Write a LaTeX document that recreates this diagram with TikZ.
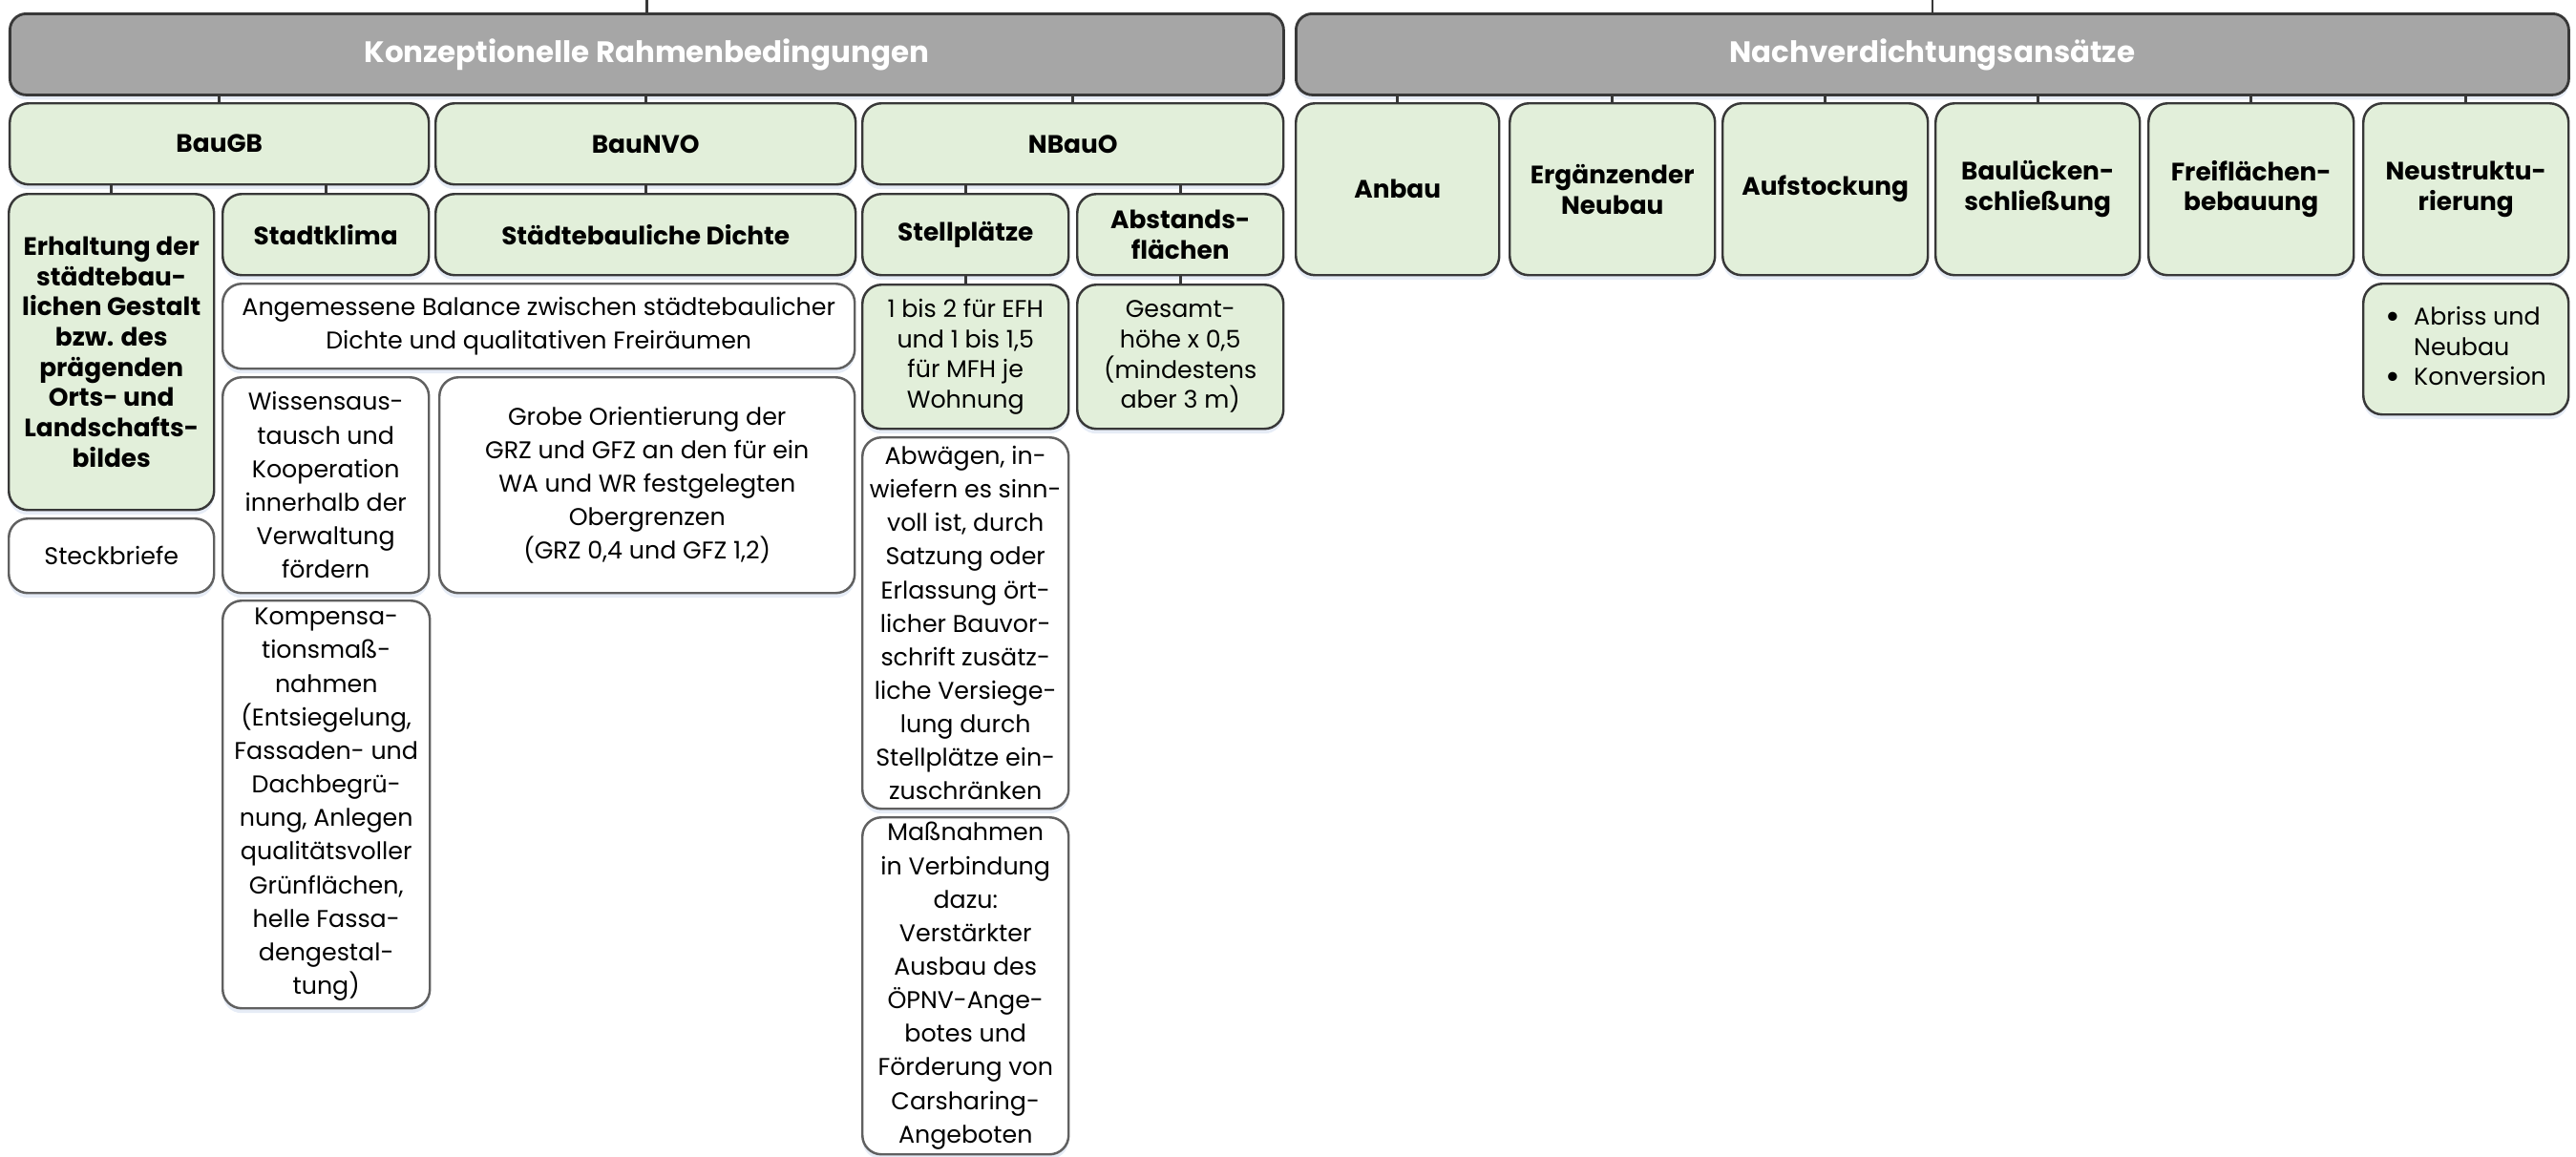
\documentclass[tikz,border=0pt]{standalone}
\usepackage{fontspec}
\setmainfont{Poppins}
\usepackage{tikz}
\usetikzlibrary{shadows}
\definecolor{HeadGrey}{RGB}{166,166,166}
\definecolor{SoftGreen}{RGB}{226,239,218}
\definecolor{LineDark}{RGB}{56,56,56}
\definecolor{LineGrey}{RGB}{96,96,96}
\definecolor{ShadowBlue}{RGB}{205,218,238}
\newcommand{\bigdot}{\raisebox{-0.17em}{\scalebox{1.5}{\textbullet}}}

\begin{document}
\begin{tikzpicture}[
  box/.style={draw, rounded corners=2mm, anchor=north west, inner sep=1pt, align=center, line width=0.7pt,
    drop shadow={shadow xshift=0pt, shadow yshift=-0.05cm, fill=ShadowBlue, opacity=0.5}},
  headbox/.style={box, fill=HeadGrey, draw=LineDark, text=white, minimum height=0.85cm, rounded corners=1.7mm,
    line width=0.8pt, font=\fontsize{8.8}{10}\selectfont\bfseries},
  greenbox/.style={box, fill=SoftGreen, draw=LineDark, font=\fontsize{7.5}{9}\selectfont\bfseries},
  greentext/.style={box, fill=SoftGreen, draw=LineDark, font=\fontsize{7.2}{9}\selectfont},
  textbox/.style={box, fill=white, draw=LineGrey, font=\fontsize{7.2}{10}\selectfont},
  link/.style={draw=LineDark, line width=0.8pt}
]
\useasboundingbox (0,0) rectangle (26.98,-12.12);

% Top headers
\node[headbox, minimum width=13.34cm] (kr) at (0.09,-0.13) {Konzeptionelle Rahmenbedingungen};
\node[headbox, minimum width=13.33cm] (nv) at (13.56,-0.13) {Nachverdichtungsansätze};
\coordinate (upkr) at (kr.north |- 0,0);
\coordinate (upnv) at (nv.north |- 0,0);

% Legal bases
\node[greenbox, minimum width=4.39cm, minimum height=0.85cm] (baugb) at (0.09,-1.07) {BauGB};
\node[greenbox, minimum width=4.40cm, minimum height=0.85cm] (baunvo) at (4.55,-1.07) {BauNVO};
\node[greenbox, minimum width=4.41cm, minimum height=0.85cm] (nbauo) at (9.02,-1.07) {NBauO};

% Densification approaches
\node[greenbox, minimum width=2.13cm, minimum height=1.80cm] (anbau) at (13.56,-1.07) {Anbau};
\node[greenbox, minimum width=2.15cm, minimum height=1.80cm] (ergnb) at (15.80,-1.07) {Ergänzender\\Neubau};
\node[greenbox, minimum width=2.15cm, minimum height=1.80cm] (aufst) at (18.03,-1.07) {Aufstockung};
\node[greenbox, minimum width=2.14cm, minimum height=1.80cm] (luecke) at (20.26,-1.07) {Baulücken-\\schließung};
\node[greenbox, minimum width=2.15cm, minimum height=1.80cm] (freifl) at (22.49,-1.07) {Freiflächen-\\bebauung};
\node[greenbox, minimum width=2.15cm, minimum height=1.80cm] (neustr) at (24.74,-1.07) {Neustruktu-\\rierung};

% Topics below the legal bases
\node[greenbox, minimum width=2.15cm, minimum height=3.31cm] (erhalt) at (0.08,-2.02)
  {Erhaltung der\\städtebau-\\lichen Gestalt\\bzw. des\\prägenden\\Orts- und\\Landschafts-\\bildes};
\node[greenbox, minimum width=2.16cm, minimum height=0.85cm] (klima) at (2.32,-2.02) {Stadtklima};
\node[greenbox, minimum width=4.40cm, minimum height=0.85cm] (dichte) at (4.55,-2.02) {Städtebauliche Dichte};
\node[greenbox, minimum width=2.16cm, minimum height=0.85cm] (stellpl) at (9.02,-2.02) {Stellplätze};
\node[greenbox, minimum width=2.16cm, minimum height=0.85cm] (abstand) at (11.27,-2.02) {Abstands-\\flächen};

% Contents
\node[textbox, minimum width=6.62cm, minimum height=0.89cm] (balance) at (2.32,-2.96)
  {Angemessene Balance zwischen städtebaulicher\\Dichte und qualitativen Freiräumen};
\node[greentext, minimum width=2.16cm, minimum height=1.51cm] (efh) at (9.02,-2.97)
  {1 bis 2 für EFH\\und 1 bis 1,5\\für MFH je\\Wohnung};
\node[greentext, minimum width=2.16cm, minimum height=1.51cm] (gesamt) at (11.27,-2.97)
  {Gesamt-\\höhe x 0,5\\(mindestens\\aber 3 m)};
\node[greentext, minimum width=2.15cm, minimum height=1.37cm] (abriss) at (24.74,-2.96)
  {\begin{tabular}{@{}l@{\hspace{1.4mm}}l@{}}\bigdot & Abriss und\\ & Neubau\\ \bigdot & Konversion\end{tabular}};
\node[textbox, minimum width=2.16cm, minimum height=2.26cm] (wissen) at (2.32,-3.94)
  {Wissensaus-\\tausch und\\Kooperation\\innerhalb der\\Verwaltung\\fördern};
\node[textbox, minimum width=4.35cm, minimum height=2.26cm] (grobe) at (4.59,-3.94)
  {Grobe Orientierung der\\GRZ und GFZ an den für ein\\WA und WR festgelegten\\Obergrenzen\\(GRZ 0,4 und GFZ 1,2)};
\node[textbox, minimum width=2.15cm, minimum height=0.78cm] (steck) at (0.08,-5.42) {Steckbriefe};
\node[textbox, minimum width=2.16cm, minimum height=3.89cm] (abwaeg) at (9.02,-4.57)
  {Abwägen, in-\\wiefern es sinn-\\voll ist, durch\\Satzung oder\\Erlassung ört-\\licher Bauvor-\\schrift zusätz-\\liche Versiege-\\lung durch\\Stellplätze ein-\\zuschränken};
\node[textbox, minimum width=2.17cm, minimum height=4.27cm] (kompens) at (2.32,-6.28)
  {Kompensa-\\tionsmaß-\\nahmen\\(Entsiegelung,\\Fassaden- und\\Dachbegrü-\\nung, Anlegen\\qualitätsvoller\\Grünflächen,\\helle Fassa-\\dengestal-\\tung)};
\node[textbox, minimum width=2.16cm, minimum height=3.53cm] (massn) at (9.02,-8.55)
  {Maßnahmen\\in Verbindung\\dazu:\\Verstärkter\\Ausbau des\\ÖPNV-Ange-\\botes und\\Förderung von\\Carsharing-\\Angeboten};

% Connectors
\draw[link] (upkr) -- (kr.north);
\draw[link] (upnv) -- (nv.north);
\foreach \p/\c in {kr/baugb, kr/baunvo, kr/nbauo,
                   nv/anbau, nv/ergnb, nv/aufst, nv/luecke, nv/freifl, nv/neustr,
                   baugb/erhalt, baugb/klima, baunvo/dichte, nbauo/stellpl, nbauo/abstand,
                   stellpl/efh, abstand/gesamt}
  \draw[link] (\c.north) -- (\c.north |- \p.south);
\end{tikzpicture}
\end{document}
